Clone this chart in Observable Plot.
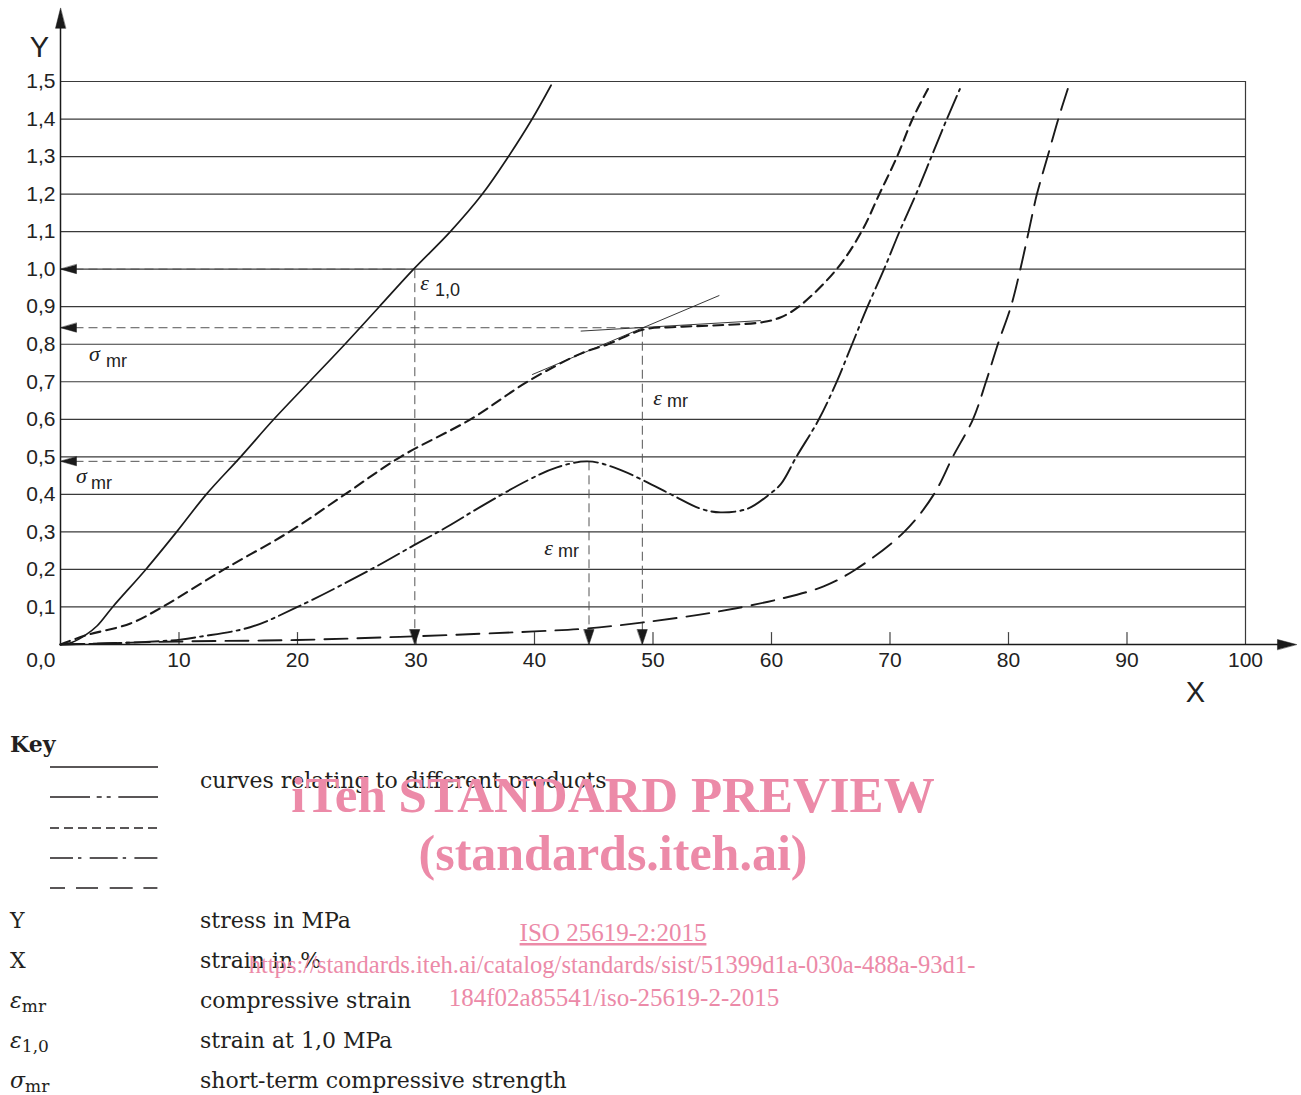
<!DOCTYPE html>
<html>
<head>
<meta charset="utf-8">
<script src="https://cdn.jsdelivr.net/npm/d3@7"></script>
<script src="https://cdn.jsdelivr.net/npm/@observablehq/plot@0.6"></script>
<style>
  body { margin: 0; background: #fff; }
  #wrap { position: relative; width: 1301px; height: 1095px; overflow: hidden; }
  #chart { position: absolute; left: 0; top: 0; }
  #key { position: absolute; left: 0; top: 715px; }
</style>
</head>
<body>
<div id="wrap"><div id="chart"></div><div id="key"></div></div>
<script>
// ---------- data ----------
const xTicks = [10, 20, 30, 40, 50, 60, 70, 80, 90, 100];
const yTicks = [0.1, 0.2, 0.3, 0.4, 0.5, 0.6, 0.7, 0.8, 0.9, 1.0, 1.1, 1.2, 1.3, 1.4, 1.5];
const xAxisEnd = 104.3;
const yAxisEnd = 1.695;

// solid curve
const solidX = [0, 1, 2.1, 3.1, 4.4, 7.2, 9.8, 12.3, 15.2, 18.0, 21.0, 24.0, 26.9, 29.8, 32.9, 35.6, 37.8, 39.8, 41.4];
const solidY = [0, 0.006, 0.025, 0.05, 0.1, 0.2, 0.3, 0.4, 0.5, 0.6, 0.7, 0.8, 0.9, 1.0, 1.1, 1.2, 1.3, 1.4, 1.49];
// short dashed curve
const dashX = [0, 2.1, 5.9, 8.6, 13.8, 19.3, 24.0, 28.7, 34.6, 39.4, 43.9, 46.2, 49.2, 52.0, 55.1, 59.3, 60.8, 62.3, 65.5, 67.6, 69.1, 70.6, 71.9, 73.2];
const dashY = [0, 0.024, 0.056, 0.1, 0.2, 0.3, 0.4, 0.5, 0.6, 0.7, 0.775, 0.8, 0.839, 0.846, 0.85, 0.859, 0.872, 0.9, 1.0, 1.1, 1.2, 1.3, 1.4, 1.48];
// dash-dot curve
const dotX = [0, 5, 10.1, 11.8, 16.0, 20.0, 26.2, 29.8, 32.6, 35.4, 39.4, 41.9, 44.5, 46.7, 49.2, 51.7, 54.0, 55.7, 58.0, 59.7, 60.8, 62.1, 64.0, 65.5, 66.8, 68.1, 69.5, 70.8, 72.2, 73.5, 74.8, 75.9];
const dotY = [0, 0.004, 0.013, 0.021, 0.046, 0.1, 0.2, 0.264, 0.313, 0.366, 0.437, 0.472, 0.488, 0.472, 0.437, 0.397, 0.362, 0.352, 0.362, 0.397, 0.428, 0.5, 0.6, 0.7, 0.8, 0.9, 1.0, 1.1, 1.2, 1.3, 1.4, 1.48];
// long dashed curve
const longX = [0, 10, 20, 30, 40, 44.5, 49.2, 55.0, 60.8, 64.4, 67.1, 71.2, 73.7, 75.3, 77.0, 78.1, 79.1, 80.2, 81.0, 81.7, 82.4, 83.3, 84.2, 85.0];
const longY = [0, 0.008, 0.012, 0.022, 0.035, 0.043, 0.059, 0.085, 0.122, 0.155, 0.2, 0.3, 0.4, 0.5, 0.6, 0.7, 0.8, 0.9, 1.0, 1.1, 1.2, 1.3, 1.4, 1.48];

// reading lines (strain, stress)
const readX = [29.9, 49.1, 44.6];
const readY = [1.0, 0.844, 0.488];
// tangents
const tanX1 = [39.8, 43.9], tanY1 = [0.719, 0.835];
const tanX2 = [55.6, 59.1], tanY2 = [0.93, 0.863];

// in-plot labels
const symText = ["ε", "σ", "σ", "ε", "ε"];
const symX = [30.72, 2.87, 1.77, 50.38, 41.18];
const symY = [0.962, 0.775, 0.448, 0.658, 0.258];
const subText = ["1,0", "mr", "mr", "mr", "mr"];
const subX = [32.66, 4.73, 3.46, 52.07, 42.87];
const subY = [0.943, 0.754, 0.429, 0.647, 0.248];

// key
const keyDashes = ["none", "40,6.7,5,5,4,7.6,40", "9,5", "23,5,3.4,8.3,28,5,3.4,8.3,23", "15,11,22,11.7,23,10.7,14"];
const keyCurvesText = "curves relating to different products";
const keySymbols = [["Y", ""], ["X", ""], ["ε", "mr"], ["ε", "1,0"], ["σ", "mr"]];
const keyTexts = ["stress in MPa", "strain in %", "compressive strain", "strain at 1,0 MPa", "short-term compressive strength"];

// ---------- helpers ----------
const fmt = d => d.toFixed(1).replace(".", ",");
const pts = (xs, ys) => xs.map((x, i) => ({x, y: ys[i]}));
const reads = pts(readX, readY);
const tangents = tanX1.map((x, i) => ({x1: x, y1: tanY1[i], x2: tanX2[i], y2: tanY2[i]}));
const syms = symText.map((t, i) => ({t, x: symX[i], y: symY[i]}));
const subs = subText.map((t, i) => ({t, x: subX[i], y: subY[i]}));

const head = hw => ({draw(ctx, l) { ctx.moveTo(0, -l); ctx.lineTo(-hw, 0); ctx.lineTo(hw, 0); ctx.closePath(); }});
const tick = {draw(ctx, l) { ctx.moveTo(0, 0); ctx.lineTo(0, -l); }};

const ink = "#1a1a1a";
const curveOpts = {x: "x", y: "y", curve: "catmull-rom", stroke: ink, strokeWidth: 1.9};

const plot = Plot.plot({
  width: 1301,
  height: 715,
  marginLeft: 60,
  marginRight: 56,
  marginTop: 81,
  marginBottom: 71,
  x: {domain: [0, 100], axis: null},
  y: {domain: [0, 1.5], axis: null},
  style: {fontFamily: "'Liberation Sans', Arial, sans-serif", color: ink, background: "white", overflow: "visible"},
  marks: [
    Plot.ruleY(yTicks, {x1: 0, x2: 100, stroke: "#3a3a3a", strokeWidth: 1.2}),
    Plot.ruleX([100], {y1: 0, y2: 1.5, stroke: "#3a3a3a", strokeWidth: 1.2}),
    Plot.vector(xTicks.slice(0, -1), {x: d => d, y: () => 0, length: 12, rotate: 0, anchor: "start", shape: tick, stroke: "#444", strokeWidth: 1.2}),
    // reading lines
    Plot.link(reads, {x1: () => 0, y1: "y", x2: "x", y2: "y", stroke: "#555", strokeWidth: 1, strokeDasharray: "9,5"}),
    Plot.link(reads, {x1: "x", y1: "y", x2: "x", y2: () => 0, stroke: "#555", strokeWidth: 1, strokeDasharray: "9,5"}),
    Plot.vector(reads, {x: () => 0, y: "y", length: 16, rotate: 270, anchor: "end", shape: head(4.5), fill: ink, stroke: ink, strokeWidth: 0.5}),
    Plot.vector(reads, {x: "x", y: () => 0, length: 15, rotate: 180, anchor: "end", shape: head(5), fill: ink, stroke: ink, strokeWidth: 0.5}),
    // tangents
    Plot.link(tangents, {x1: "x1", y1: "y1", x2: "x2", y2: "y2", stroke: "#222", strokeWidth: 0.9}),
    // curves
    Plot.line(pts(solidX, solidY), {...curveOpts, strokeWidth: 1.7}),
    Plot.line(pts(dashX, dashY), {...curveOpts, strokeWidth: 2.1, strokeDasharray: "10,6"}),
    Plot.line(pts(dotX, dotY), {...curveOpts, strokeDasharray: "24,5,3,5"}),
    Plot.line(pts(longX, longY), {...curveOpts, strokeDasharray: "23,10"}),
    // axes
    Plot.ruleY([0], {x1: 0, x2: xAxisEnd - 1, stroke: ink, strokeWidth: 1.5}),
    Plot.ruleX([0], {y1: 0, y2: yAxisEnd - 0.02, stroke: ink, strokeWidth: 1.5}),
    Plot.vector([xAxisEnd], {x: d => d, y: () => 0, length: 19, rotate: 90, anchor: "end", shape: head(5), fill: ink, stroke: ink, strokeWidth: 0.5}),
    Plot.vector([yAxisEnd], {x: () => 0, y: d => d, length: 20, rotate: 0, anchor: "end", shape: head(5), fill: ink, stroke: ink, strokeWidth: 0.5}),
    // tick labels
    Plot.text(yTicks, {x: () => 0, y: d => d, text: fmt, textAnchor: "end", dx: -5, fontSize: 21, fill: "#222"}),
    Plot.text([0], {x: () => 0, y: () => 0, text: fmt, textAnchor: "end", dx: -5, dy: 16, fontSize: 21, fill: "#222"}),
    Plot.text(xTicks, {x: d => d, y: () => 0, text: d => String(d), dy: 16, fontSize: 21, fill: "#222"}),
    Plot.text(["Y"], {frameAnchor: "top-left", textAnchor: "middle", lineAnchor: "middle", dx: -21, dy: -34, fontSize: 29, fill: "#222"}),
    Plot.text(["X"], {frameAnchor: "bottom-right", textAnchor: "middle", lineAnchor: "middle", dx: -50, dy: 48, fontSize: 29, fill: "#222"}),
    // in-plot symbol labels
    Plot.text(syms, {x: "x", y: "y", text: "t", fontSize: 22, fontStyle: "italic", fontFamily: "'Liberation Serif', serif", fill: "#222"}),
    Plot.text(subs, {x: "x", y: "y", text: "t", fontSize: 18, fill: "#222"})
  ]
});
document.getElementById("chart").appendChild(plot);

// ---------- key ----------
const keyInk = "#231f20";
const key = d3.select("#key").append("svg")
  .attr("width", 1301).attr("height", 380)
  .attr("font-family", "'DejaVu Serif', serif")
  .attr("fill", keyInk);
key.append("text").attr("x", 10).attr("y", 37).attr("font-size", 22).attr("font-weight", "bold").text("Key");
keyDashes.forEach((d, i) => {
  const y = [52, 82, 113, 143, 173][i];
  key.append("line").attr("x1", 50).attr("x2", 158).attr("y1", y).attr("y2", y)
    .attr("stroke", keyInk).attr("stroke-width", 1.6).attr("stroke-dasharray", d);
});
key.append("text").attr("x", 200).attr("y", 73).attr("font-size", 22).text(keyCurvesText);
keySymbols.forEach((s, i) => {
  const y = 213 + 40 * i;
  const t = key.append("text").attr("x", 10).attr("y", y).attr("font-size", 22);
  if (s[1]) {
    t.append("tspan").attr("font-style", "italic").text(s[0]);
    t.append("tspan").attr("font-size", 17).attr("dy", 4).text(s[1]);
  } else {
    t.text(s[0]);
  }
  key.append("text").attr("x", 200).attr("y", y).attr("font-size", 22).text(keyTexts[i]);
});

// watermark overlay
const pink = "#ec8aa8";
const wm = key.append("g").attr("fill", pink).attr("font-family", "'Liberation Serif', 'Times New Roman', serif").attr("text-anchor", "middle");
wm.append("text").attr("x", 613).attr("y", 97).attr("font-size", 51).attr("font-weight", "bold").text("iTeh STANDARD PREVIEW");
wm.append("text").attr("x", 613).attr("y", 155).attr("font-size", 50).attr("font-weight", "bold").text("(standards.iteh.ai)");
wm.append("text").attr("x", 613).attr("y", 226).attr("font-size", 25).style("text-decoration", "underline").text("ISO 25619-2:2015");
wm.append("text").attr("x", 612).attr("y", 258).attr("font-size", 24.6).text("https://standards.iteh.ai/catalog/standards/sist/51399d1a-030a-488a-93d1-");
wm.append("text").attr("x", 614).attr("y", 291).attr("font-size", 25).text("184f02a85541/iso-25619-2-2015");
</script>
</body>
</html>
